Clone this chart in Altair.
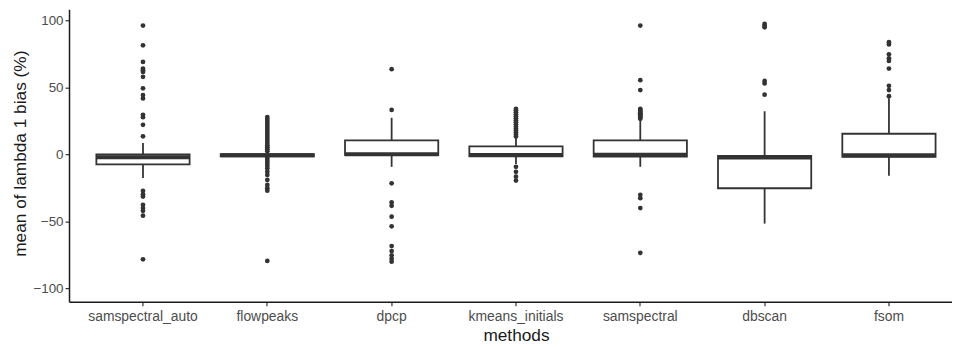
import altair as alt
import pandas as pd

methods = ["samspectral_auto", "flowpeaks", "dpcp", "kmeans_initials",
           "samspectral", "dbscan", "fsom"]
lower_whisker = [-17.6, -2.5, -9.2, -7.0, -9.2, -51.6, -15.8]
q1 = [-7.4, -1.3, -0.5, -1.3, -1.6, -25.2, -1.8]
median = [-2.0, -0.5, 0.2, -0.3, -0.1, -2.2, -0.5]
q3 = [0.0, 0.2, 10.6, 6.0, 10.6, -1.0, 15.5]
upper_whisker = [8.6, 2.0, 27.4, 12.5, 25.0, 32.3, 42.0]

out_samspectral_auto = [96.3, 81.5, 69.1, 64.2, 62.9, 61.7, 58.0, 49.4, 44.4, 41.9,
                        29.6, 27.9, 22.2, 13.6, -27.2, -29.7, -31.4, -37.6, -40.0,
                        -42.0, -45.7, -78.3]
out_flowpeaks = [28.0, 26.5, 25.0, 23.5, 22.0, 20.5, 19.0, 17.5, 16.0, 14.5, 13.0,
                 11.5, 10.0, 8.5, 7.0, 5.5, 4.0, 2.5, -2.5, -4.0, -5.5, -7.0, -8.5,
                 -10.4, -12.9, -15.3, -19.0, -22.7, -25.2, -27.0, -79.5]
out_dpcp = [63.7, 33.3, -21.5, -35.8, -38.3, -46.4, -53.6, -68.4, -72.1, -75.3,
            -77.8, -80.0]
out_kmeans_initials = [13.5, 15.0, 16.5, 18.0, 19.5, 21.0, 22.5, 24.0, 25.5, 27.0,
                       28.5, 30.0, 31.5, 33.0, 34.0, -9.2, -12.9, -16.6, -19.5]
out_samspectral = [96.3, 55.5, 48.1, 34.1, 33.3, 32.5, 31.6, 30.8, 30.0, 29.1, 28.3,
                   27.5, 26.7, -30.1, -32.6, -40.0, -73.4]
out_dbscan = [97.5, 96.3, 95.0, 54.9, 53.1, 44.7]
out_fsom = [83.9, 82.2, 74.8, 71.8, 69.9, 64.2, 51.3, 48.1, 43.5]

outlier_lists = [out_samspectral_auto, out_flowpeaks, out_dpcp, out_kmeans_initials,
                 out_samspectral, out_dbscan, out_fsom]

stats = pd.DataFrame({
    "method": methods, "lo": lower_whisker, "q1": q1, "med": median,
    "q3": q3, "hi": upper_whisker,
})
outs = pd.DataFrame(
    [{"method": m, "v": v} for m, lst in zip(methods, outlier_lists) for v in lst]
)

FONT = "Liberation Sans"
DARK = "#333333"

xscale = alt.Scale(domain=methods, range=[0, 901], paddingInner=0, paddingOuter=0.095)
yscale = alt.Scale(domain=[-110, 108.4], nice=False, zero=False)

xaxis = alt.Axis(title="methods", labelAngle=0, tickSize=4, labelPadding=4,
                 labelFontSize=14, titlePadding=3)
yaxis = alt.Axis(title="mean of lambda 1 bias (%)", values=[-100, -50, 0, 50, 100],
                 tickSize=4, labelPadding=2, labelFontSize=13.5, titleX=-49, titleY=145,
                 titleBaseline="middle")

base = alt.Chart(stats).encode(x=alt.X("method:N", scale=xscale, axis=xaxis, sort=methods))

upper = base.mark_rule(color=DARK, strokeWidth=1.8).encode(
    y=alt.Y("q3:Q", scale=yscale, axis=yaxis), y2="hi:Q")
lower = base.mark_rule(color=DARK, strokeWidth=1.8).encode(
    y=alt.Y("lo:Q"), y2="q1:Q")
box = base.mark_bar(size=94, fill="white", stroke=DARK, strokeWidth=1.8).encode(
    y=alt.Y("q1:Q"), y2="q3:Q")
med = base.mark_tick(size=94, thickness=4, color=DARK, opacity=1).encode(
    y=alt.Y("med:Q"))
pts = alt.Chart(outs).mark_circle(size=23, color=DARK, opacity=1).encode(
    x=alt.X("method:N", sort=methods),
    y=alt.Y("v:Q"))

chart = alt.layer(upper, lower, box, med, pts).properties(
    width=890, height=294.8, autosize="none",
    padding={"left": 61.5, "top": 0, "right": 0, "bottom": 45},
    background="white",
).configure_view(stroke=None).configure_axis(
    grid=False, domainColor="#1a1a1a", domainWidth=1.5, tickColor=DARK,
    tickWidth=1.2, labelColor="#4d4d4d", labelFont=FONT,
    titleFont=FONT, titleFontSize=17.4, titleFontWeight="normal", titleColor="#1a1a1a",
)

chart.save("out.html", embed_options={"renderer": "svg", "actions": False})
